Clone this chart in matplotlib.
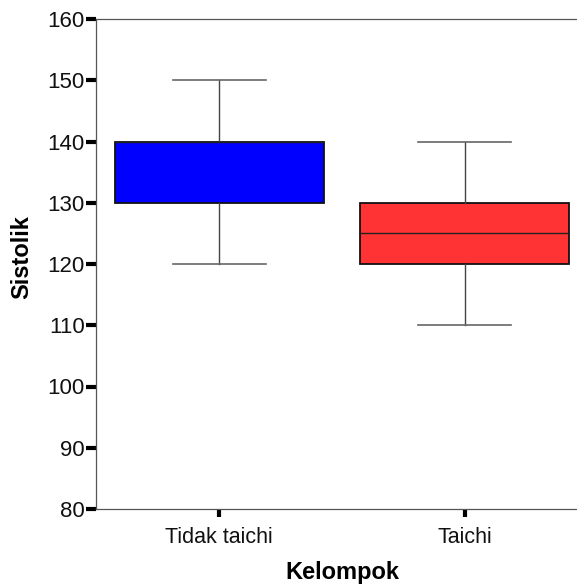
import matplotlib
matplotlib.use("Agg")
import matplotlib.pyplot as plt

plt.rcParams['font.family'] = ['Liberation Sans', 'DejaVu Sans']

categories = ["Tidak taichi", "Taichi"]
whisker_low = [120, 110]
q1 = [130, 120]
median = [140, 125]
q3 = [140, 130]
whisker_high = [150, 140]
colors = ["#0000FF", "#FF3333"]
yticks = [80, 90, 100, 110, 120, 130, 140, 150, 160]

fig = plt.figure(figsize=(5.77, 5.88), dpi=100)
ax = fig.add_axes([96/577, 1 - 509/588, 1 - 96/577 + 0.001, (509 - 19)/588])

stats = []
for i, c in enumerate(categories):
    stats.append(dict(label=c, whislo=whisker_low[i], q1=q1[i], med=median[i],
                      q3=q3[i], whishi=whisker_high[i], fliers=[]))

bp = ax.bxp(stats, positions=[0, 1], widths=0.85, patch_artist=True,
            showfliers=False, capwidths=0.38,
            boxprops=dict(edgecolor="#111111", linewidth=1.3),
            medianprops=dict(color="#222222", linewidth=1.0),
            whiskerprops=dict(color="#444444", linewidth=1.0),
            capprops=dict(color="#666666", linewidth=1.2))
for patch, col in zip(bp['boxes'], colors):
    patch.set_facecolor(col)

ax.set_xlim(-0.502, 1.46)
ax.set_ylim(80, 160)
ax.set_yticks(yticks)
ax.set_yticklabels([str(v) for v in yticks])
ax.set_xticks([0, 1])
ax.set_xticklabels(categories)

for s in ['left', 'bottom', 'top']:
    ax.spines[s].set_color("#555555")
    ax.spines[s].set_linewidth(0.9)
ax.spines['right'].set_visible(False)

ax.tick_params(axis='y', direction='out', length=7, width=3, color='black',
               labelsize=16, pad=1, labelcolor='#111111')
ax.tick_params(axis='x', direction='out', length=6, width=3, color='black',
               labelsize=15.5, pad=7, labelcolor='#111111')

fig.text(342/577, 1 - 573/588, "Kelompok", ha='center', va='center',
         fontsize=17, fontweight='bold')
fig.text(22/577, 1 - 257/588, "Sistolik", ha='center', va='center',
         fontsize=17, fontweight='bold', rotation=90)

fig.savefig("out.png", dpi=100)
